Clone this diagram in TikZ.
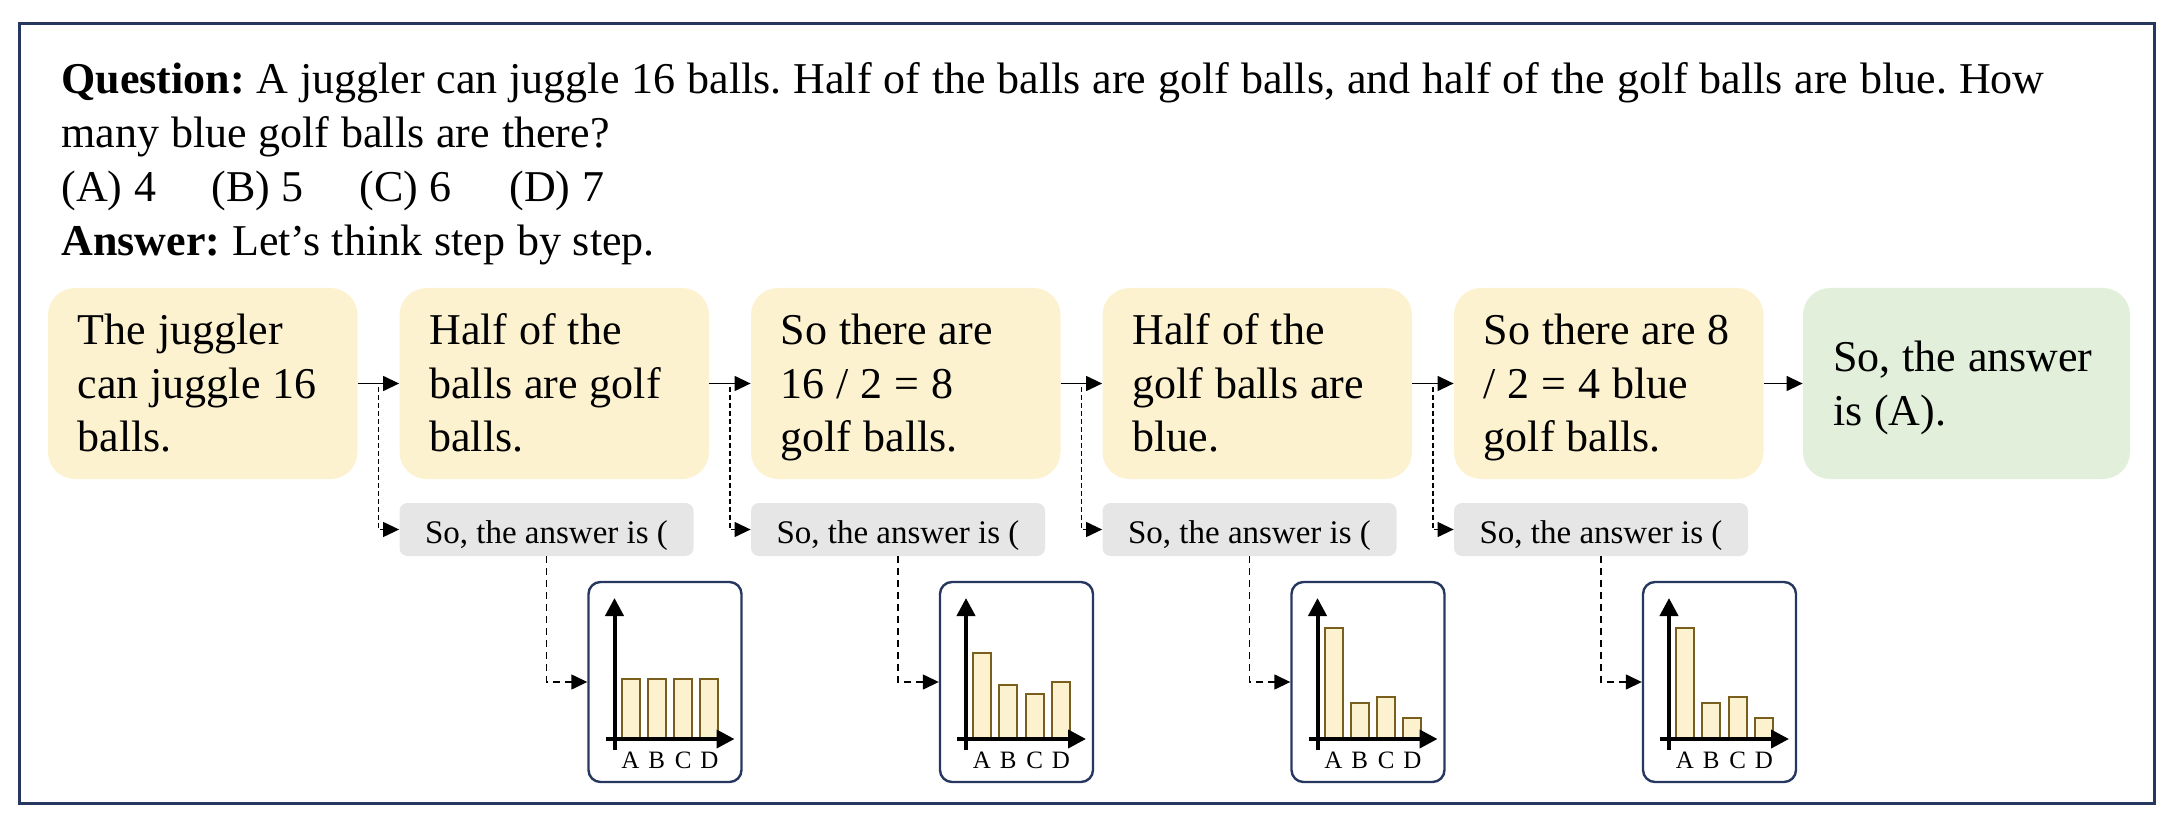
\documentclass[tikz,border=0pt]{standalone}
\usepackage{fontspec}
\setmainfont{Liberation Serif}
\usetikzlibrary{arrows.meta}
\definecolor{framec}{RGB}{38,56,96}
\definecolor{yel}{RGB}{253,242,208}
\definecolor{grn}{RGB}{226,239,218}
\definecolor{gry}{RGB}{230,230,230}
\definecolor{barline}{RGB}{122,94,30}
\newcommand\natsp{\frenchspacing\spaceskip=0.27em plus 0.1em minus 0.05em\xspaceskip=0pt\relax}
\tikzset{
  stepbox/.style={fill=yel, rounded corners=13.5pt, minimum width=154.75pt, minimum height=95.5pt,
    text width=125pt, inner xsep=14.5pt, inner ysep=0pt, align=left,
    font=\fontsize{22}{26.75}\selectfont, text height=15pt, text depth=53.5pt},
  finalbox/.style={stepbox, fill=grn, minimum width=163.5pt, text width=133.5pt, text depth=26.75pt},
  ansbox/.style={fill=gry, rounded corners=4pt, minimum width=147pt, minimum height=26.5pt,
    inner sep=0pt, font=\fontsize{16.5}{20}\selectfont, text height=13.5pt, text depth=0pt},
  chartbox/.style={draw=framec, line width=1.2pt, rounded corners=6pt, minimum width=76.5pt,
    minimum height=100pt, inner sep=0pt},
  bar/.style={fill=yel, draw=barline, line width=1pt},
  axis/.style={line width=2pt, -{Triangle[length=9pt,width=9pt]}},
  lab/.style={anchor=base, inner sep=0pt, font=\fontsize{12.5}{14}\selectfont},
  arr/.style={line width=0.65pt, -{Triangle[length=8pt,width=7.5pt]}},
  dasharr/.style={line width=0.6pt, dash pattern=on 2.5pt off 1.5pt, -{Triangle[length=8pt,width=7.5pt]}},
  chartarr/.style={line width=0.7pt, dash pattern=on 3.5pt off 2.5pt, -{Triangle[length=8pt,width=7.5pt]}}
}
\newcommand\drawchart[6]{%
  \node[chartbox] (#2) at (#1+76.5,682) {};
  \begin{scope}[shift={(#1,582)}]
    \foreach \h [count=\i] in {#3,#4,#5,#6} {
      \draw[bar] ({42+26.3*(\i-1)-9},157) rectangle ({42+26.3*(\i-1)+9},157-\h);
    }
    \draw[axis] (26,168) -- (26,16);
    \draw[axis] (17,157) -- (146,157);
    \foreach \l [count=\i] in {A,B,C,D}
      \node[lab] (#2l\i) at ({42+26.3*(\i-1)},186) {\l};
  \end{scope}}
\begin{document}
\begin{tikzpicture}[x=0.5pt,y=-0.5pt]
\useasboundingbox (0,0) rectangle (2178,828);
\draw[framec, line width=1.5pt] (19,24) rectangle (2154,803);

\node[anchor=base west, inner sep=0pt, text width=1060pt, align=left,
  font=\fontsize{22}{26.85}\selectfont] (q) at (61,94)
  {\natsp\textbf{Question:} A juggler can juggle 16 balls. Half of the balls are golf balls, and half of the golf balls are blue. How\\
   many blue golf balls are there?\\
   \makebox[75pt][l]{(A) 4}\makebox[74pt][l]{(B) 5}\makebox[75pt][l]{(C) 6}(D) 7\\
   \textbf{Answer:} Let’s think step by step.};

\node[stepbox] (s1) at (202.75,383.5) {\natsp The juggler\\\mbox{can juggle 16}\\balls.};
\node[stepbox] (s2) at (554.25,383.5) {\natsp Half of the\\\mbox{balls are golf}\\balls.};
\node[stepbox] (s3) at (905.75,383.5) {\natsp\mbox{So there are}\\16 / 2 = 8\\golf balls.};
\node[stepbox] (s4) at (1257.25,383.5) {\natsp Half of the\\\mbox{golf balls are}\\blue.};
\node[stepbox] (s5) at (1608.75,383.5) {\natsp\mbox{So there are 8}\\\mbox{/ 2 = 4 blue}\\golf balls.};
\node[finalbox] (s6) at (1966.5,383.5) {\natsp\mbox{So, the answer}\\is (A).};

\node[ansbox] (a1) at (546.5,529.5) {So, the answer is (};
\node[ansbox] (a2) at (898,529.5) {So, the answer is (};
\node[ansbox] (a3) at (1249.5,529.5) {So, the answer is (};
\node[ansbox] (a4) at (1601,529.5) {So, the answer is (};

\drawchart{588.5}{c1}{60}{60}{60}{60}
\drawchart{940}{c2}{86}{54}{45}{57}
\drawchart{1291.5}{c3}{111}{36}{42}{21}
\drawchart{1643}{c4}{111}{36}{42}{21}

\foreach \i/\j in {1/2,2/3,3/4,4/5,5/6}
  \draw[arr] (s\i.east) -- (s\j.west);

\coordinate (m1) at (378.5,383.5);
\coordinate (m2) at (730,383.5);
\coordinate (m3) at (1081.5,383.5);
\coordinate (m4) at (1433,383.5);
\foreach \i in {1,2,3,4} {
  \draw[dasharr] (s\i.east) -- (m\i) |- (a\i.west);
  \draw[chartarr] (a\i.south) |- (c\i.west);
}
\end{tikzpicture}
\end{document}
